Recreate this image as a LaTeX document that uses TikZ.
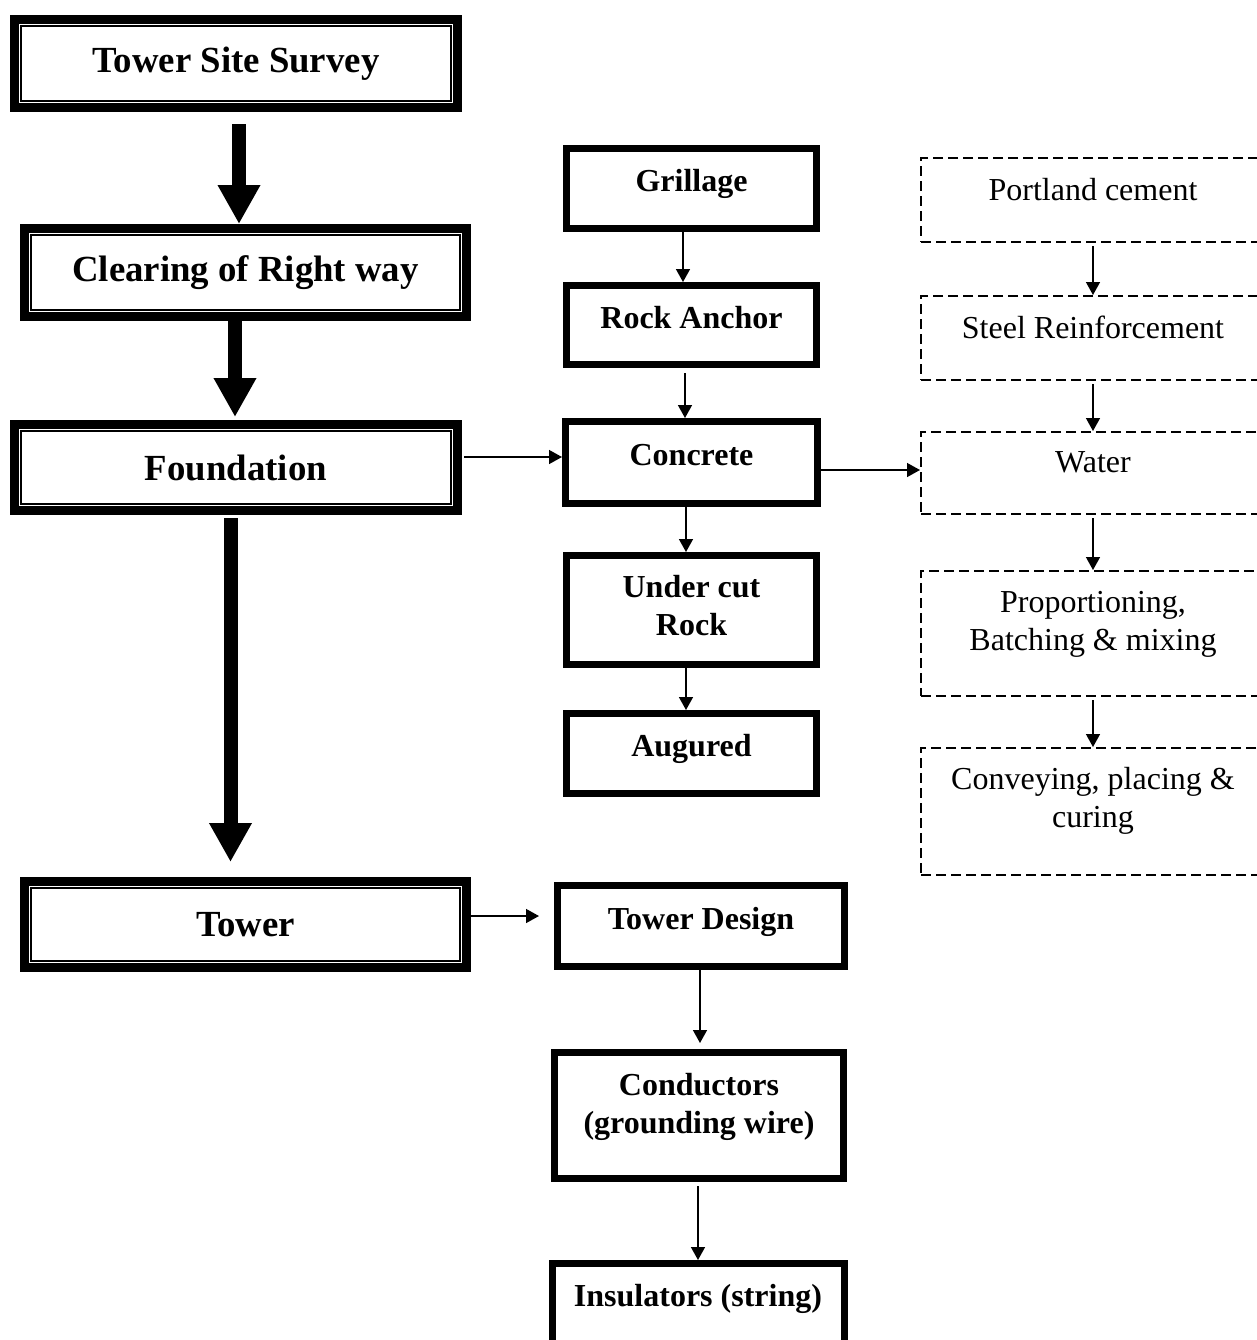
\documentclass[tikz,border=0pt]{standalone}
\usepackage{fontspec}
\setmainfont{Liberation Serif}
\usetikzlibrary{arrows.meta,calc,positioning}
\newdimen\px
\px=0.5pt
\def\liftdepth{16}
\tikzstyle{stage}=[
  draw,
  line width=9\px,
  minimum width=443\px,
  minimum height=87\px,
  inner sep=0pt,
  align=center,
  font={\fontsize{18.4}{22}\selectfont\bfseries},
  path picture={
    \draw [line width=1.5\px]
      ([shift={(6.5\px,-6.5\px)}]path picture bounding box.north west)
      rectangle ([shift={(-6.5\px,6.5\px)}]path picture bounding box.south east);
  },
]
\tikzstyle{part}=[
  draw,
  line width=7\px,
  minimum width=250\px,
  minimum height=80\px,
  inner sep=2pt,
  align=center,
  font={\fontsize{16}{19}\selectfont\bfseries},
  lift=16,
  execute at end node={\rule[-\liftdepth\px]{0pt}{0pt}},
]
\tikzstyle{input}=[
  draw,
  dash pattern=on 10\px off 5\px,
  line width=2\px,
  minimum width=344\px,
  minimum height=84\px,
  inner sep=2pt,
  align=center,
  font={\fontsize{16}{19}\selectfont},
  lift=21,
  execute at end node={\rule[-\liftdepth\px]{0pt}{0pt}},
]
\tikzstyle{arrow}=[
  line width=1.5\px,
  ->,
]
\tikzstyle{bigarrow}=[
  line width=14\px,
  -{Triangle[length=19.5pt,width=20pt]},
]
\tikzset{
  lift/.code={\def\liftdepth{#1}},
  >={Triangle[length=6.5pt,width=7pt]},
}

\begin{document}
\begin{tikzpicture}[x=\px, y=-\px]
  \useasboundingbox (0,0) rectangle (1257,1340);
  \clip (0,0) rectangle (1257,1340);
  %% main line
  \node (survey) [stage, minimum height=88\px] at (236,63.5) {Tower Site Survey};
  \node (clearing) [stage, minimum height=88\px, minimum width=442\px] at (245.5,272.5) {Clearing of Right way};
  \node (foundation) [stage, minimum height=86\px] at (236,467.5) {Foundation};
  \node (tower) [stage, minimum height=86\px, minimum width=442\px] at (245.5,924.5) {Tower};
  %% foundation types
  \node (grillage) [part] at (691.5,188.5) {Grillage};
  \node (anchor) [part, minimum height=79\px] at (691.5,325) {Rock Anchor};
  \node (concrete) [part, minimum width=252\px, minimum height=82\px] at (691.5,462.5) {Concrete};
  \node (undercut) [part, minimum height=109\px, lift=10] at (691.5,610) {Under cut\\Rock};
  \node (augured) [part] at (691.5,753.5) {Augured};
  %% tower parts
  \node (design) [part, minimum width=287\px, minimum height=81\px] at (701,926) {Tower Design};
  \node (conductors) [part, minimum width=289\px, minimum height=126\px, lift=24] at (699,1115.5) {Conductors\\(grounding wire)};
  \node (insulators) [part, minimum width=292\px, minimum height=83\px, lift=20] at (698,1305) {Insulators (string)};
  %% concrete steps
  \node (cement) [input] at (1093,200) {Portland cement};
  \node (steel) [input] at (1093,338) {Steel Reinforcement};
  \node (water) [input, minimum height=82\px] at (1093,473) {Water};
  \node (mixing) [input, minimum height=125\px, lift=25] at (1093,633.5) {Proportioning,\\Batching \& mixing};
  \node (curing) [input, minimum height=127\px, lift=29] at (1093,811.5) {Conveying, placing \&\\curing};
  %%
  \coordinate (A) at ([shift={(1.5pt,-6pt)}]survey.south);
  \coordinate (B) at ([xshift=-5.25pt]clearing.south);
  \coordinate (C) at ([xshift=-2.75pt]foundation.south);
  \draw [bigarrow] (A) -- (A |- clearing.north);
  \draw [bigarrow, shorten >=3\px] (B) -- (B |- foundation.north);
  \draw [bigarrow, shorten <=3\px, shorten >=15\px] (C) -- (C |- tower.north);
  %%
  \coordinate (F) at ([shift={(1pt,5.25pt)}]foundation.east);
  \coordinate (K) at ([yshift=-3.75pt]concrete.east);
  \coordinate (T) at ([yshift=4.25pt]tower.east);
  \draw [arrow] (F) -- (F -| concrete.west);
  \draw [arrow] (K) -- (K -| water.west);
  \draw [arrow, shorten >=15\px] (T) -- (T -| design.west);
  %%
  \coordinate (D) at ([xshift=-0.5pt]design.south);
  \coordinate (G) at ([xshift=-0.5pt]conductors.south);
  \draw [arrow] ([xshift=-4.25pt]grillage.south) -- ([xshift=-4.25pt]anchor.north);
  \draw [arrow, shorten <=5\px] ([xshift=-3.25pt]anchor.south) -- ([xshift=-3.25pt]concrete.north);
  \draw [arrow] ([xshift=-2.75pt]concrete.south) -- ([xshift=-2.75pt]undercut.north);
  \draw [arrow] ([xshift=-2.75pt]undercut.south) -- ([xshift=-2.75pt]augured.north);
  \draw [arrow, shorten >=6\px] (D) -- (D |- conductors.north);
  \draw [arrow, shorten <=4\px] (G) -- (G |- insulators.north);
  %%
  \draw [arrow, shorten <=3\px] (cement) -- (steel);
  \draw [arrow, shorten <=3\px] (steel) -- (water);
  \draw [arrow, shorten <=3\px] (water) -- (mixing);
  \draw [arrow, shorten <=3\px] (mixing) -- (curing);
\end{tikzpicture}
\end{document}
